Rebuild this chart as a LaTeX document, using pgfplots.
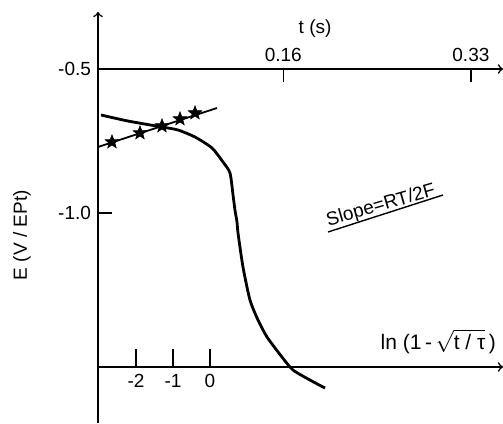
\documentclass[border=0pt]{standalone}
\usepackage{fontspec}
\setmainfont{Liberation Sans}
\usepackage{pgfplots}
\pgfplotsset{compat=1.18}

% filled five-pointed star
\pgfdeclareplotmark{fstar}{%
  \pgfpathmoveto{\pgfpointpolar{90}{\pgfplotmarksize}}%
  \pgfpathlineto{\pgfpointpolar{126}{0.42\pgfplotmarksize}}%
  \pgfpathlineto{\pgfpointpolar{162}{\pgfplotmarksize}}%
  \pgfpathlineto{\pgfpointpolar{198}{0.42\pgfplotmarksize}}%
  \pgfpathlineto{\pgfpointpolar{234}{\pgfplotmarksize}}%
  \pgfpathlineto{\pgfpointpolar{270}{0.42\pgfplotmarksize}}%
  \pgfpathlineto{\pgfpointpolar{306}{\pgfplotmarksize}}%
  \pgfpathlineto{\pgfpointpolar{342}{0.42\pgfplotmarksize}}%
  \pgfpathlineto{\pgfpointpolar{18}{\pgfplotmarksize}}%
  \pgfpathlineto{\pgfpointpolar{54}{0.42\pgfplotmarksize}}%
  \pgfpathclose
  \pgfusepathqfillstroke
}

\begin{document}
\begin{tikzpicture}
\useasboundingbox (0,0) rectangle (251.5pt,211.5pt);
\pgfplotsset{
  every axis/.append style={
    scale only axis, clip=false, width=202.5pt,
    axis line style={line width=0.8pt},
    tick style={line width=0.8pt, black},
    tick align=inside,
    every tick label/.append style={font=\fontsize{9.5}{11}\selectfont},
    label style={font=\fontsize{9.5}{11}\selectfont},
  },
}
% E against t, with the t axis at E = -0.5
\begin{axis}[
  at={(49pt,0pt)}, anchor=south west, height=177pt,
  xmin=0, xmax=0.3584, ymin=-1.729, ymax=-0.5,
  axis x line*=top, axis y line=none, x axis line style={->},
  xtick={0.164,0.33}, xticklabels={0.16,0.33},
  major tick length=6.5pt,
  xlabel={t (s)},
  xlabel style={at={(axis description cs:0.536,1)}, anchor=center, yshift=20pt},
]
\addplot[line width=1.4pt, smooth, tension=0.4] coordinates {
  (0.0027,-0.6597) (0.0265,-0.6806) (0.0566,-0.7014) (0.0708,-0.7118)
  (0.0858,-0.7361) (0.1009,-0.7743) (0.1106,-0.8229) (0.1168,-0.8611)
  (0.1195,-0.9375) (0.1212,-0.9896) (0.1230,-1.0313) (0.1239,-1.0694)
  (0.1283,-1.1875) (0.1345,-1.3021) (0.1416,-1.3715) (0.1496,-1.4306)
  (0.1628,-1.5000) (0.1726,-1.5451) (0.1876,-1.5799) (0.2009,-1.6076)
};
\end{axis}
% E axis
\begin{axis}[
  at={(49pt,0pt)}, anchor=south west, height=205.5pt,
  xmin=0, xmax=1, ymin=-1.729, ymax=-0.302,
  axis y line*=left, axis x line=none, y axis line style={->},
  ytick={-1.0,-0.5}, yticklabels={-1.0,-0.5},
  major tick length=7pt,
  ylabel={E (V / EPt)},
  ylabel style={at={(axis description cs:-0.188,0.457)}, anchor=center},
]
\end{axis}
% E against ln(1-sqrt(t/tau))
\begin{axis}[
  at={(49pt,28pt)}, anchor=south west, height=177.5pt,
  xmin=-3.027, xmax=7.919, ymin=-1.5347, ymax=-0.302,
  axis x line*=bottom, axis y line=none, x axis line style={->},
  xtick={-2,-1,0}, xticklabels={-2,-1,0},
  major tick length=9pt,
  xlabel={ln (1\,-\,$\sqrt{\mbox{t / τ}}$\,)},
  xlabel style={at={(axis description cs:1,0)}, anchor=south east, yshift=3pt,
    font=\fontsize{10.5}{12}\selectfont},
]
\addplot[line width=0.9pt] coordinates {(-3.027,-0.7708) (0.189,-0.6354)};
\addplot[only marks, mark=fstar, mark size=3.6pt, mark options={fill=black, line width=0.3pt}]
  coordinates {
  (-2.649,-0.7535) (-1.892,-0.7222) (-1.297,-0.6979) (-0.811,-0.6736) (-0.405,-0.6528)
};
\end{axis}
\node[rotate=16, font=\fontsize{9.5}{11}\selectfont] at (190.5pt,108.5pt) {Slope=RT/2F};
\draw[line width=0.7pt] (164pt,95.5pt) -- (221.5pt,114pt);
\end{tikzpicture}
\end{document}
